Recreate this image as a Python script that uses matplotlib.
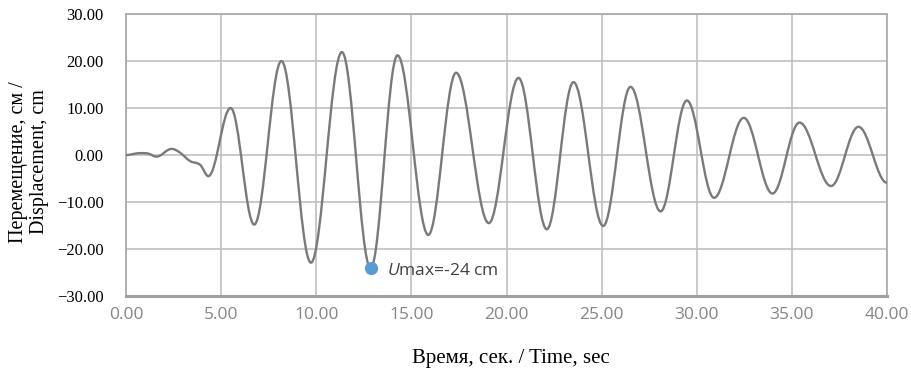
import matplotlib
matplotlib.use("Agg")
import matplotlib.pyplot as plt
from matplotlib.path import Path
from matplotlib.patches import PathPatch
from matplotlib.ticker import FuncFormatter

# readings from the picture: turning points of the displacement record
time_s = [0.0, 0.74, 1.17, 1.6, 2.4, 2.84, 3.37, 3.9, 4.33, 5.5, 6.74, 8.17,
          9.72, 11.35, 12.86, 14.27, 15.89, 17.35, 19.07, 20.63, 22.12, 23.52,
          25.08, 26.52, 28.1, 29.48, 30.91, 32.47, 33.98, 35.4, 37.06, 38.5, 40.0]
disp_cm = [0.0, 0.4, 0.3, -0.35, 1.3, 0.5, -1.3, -2.1, -4.5, 10.0, -14.8, 20.0,
           -22.9, 21.9, -24.1, 21.2, -17.0, 17.5, -14.5, 16.4, -15.8, 15.5,
           -15.1, 14.5, -12.0, 11.6, -9.1, 7.9, -8.2, 6.9, -6.6, 6.0, -5.9]

umax_time = 12.86
umax_disp = -24.1
umax_label = r"$\mathit{U}$max=-24 cm"

x_ticks = [0, 5, 10, 15, 20, 25, 30, 35, 40]
y_ticks = [-30, -20, -10, 0, 10, 20, 30]

LINE_GREY = "#7a7a7a"
GRID_GREY = "#c0c0c0"


def smooth_path(t, u, k=0.365):
    # excel-like smoothed line: cubic bezier through the points,
    # flat tangent at the turning points
    n = len(t)
    slopes = []
    for i in range(n):
        if i == 0 or i == n - 1:
            slopes.append(0.0)
            continue
        d1 = u[i] - u[i - 1]
        d2 = u[i + 1] - u[i]
        if d1 * d2 <= 0:
            slopes.append(0.0)
        else:
            slopes.append((u[i + 1] - u[i - 1]) / (t[i + 1] - t[i - 1]))
    verts = [(t[0], u[0])]
    codes = [Path.MOVETO]
    for i in range(n - 1):
        dt = t[i + 1] - t[i]
        verts += [(t[i] + k * dt, u[i] + k * dt * slopes[i]),
                  (t[i + 1] - k * dt, u[i + 1] - k * dt * slopes[i + 1]),
                  (t[i + 1], u[i + 1])]
        codes += [Path.CURVE4] * 3
    return Path(verts, codes)


plt.rcParams["mathtext.fontset"] = "custom"
plt.rcParams["mathtext.it"] = "Open Sans:italic"
plt.rcParams["mathtext.rm"] = "Open Sans"

fig = plt.figure(figsize=(9.11, 3.72), dpi=100)
ax = fig.add_axes([126 / 911, 76 / 372, 761 / 911, 282 / 372])

ax.add_patch(PathPatch(smooth_path(time_s, disp_cm), facecolor="none",
                       edgecolor=LINE_GREY, lw=1.7, zorder=3))
ax.plot([umax_time], [umax_disp], "o", color="#5b9bd5", ms=8.5, zorder=4)
ax.annotate(umax_label, xy=(umax_time, umax_disp), xytext=(12, -2),
            textcoords="offset points", va="center", ha="left",
            fontsize=12.5, family="Open Sans", color="#404040")

ax.set_xlim(0, 40)
ax.set_ylim(-30, 30)
ax.set_xticks(x_ticks)
ax.set_yticks(y_ticks)
ax.xaxis.set_major_formatter(FuncFormatter(lambda v, p: f"{v:.2f}"))
ax.yaxis.set_major_formatter(FuncFormatter(lambda v, p: f"{v:.2f}".replace("-", "\u2212")))
ax.grid(True, color=GRID_GREY, lw=1.2)
ax.set_axisbelow(True)
ax.tick_params(length=0)
ax.tick_params(axis="x", pad=8, labelsize=12.5, labelcolor="#858585")
ax.tick_params(axis="y", pad=16, labelsize=12, labelcolor="black")
for lbl in ax.get_xticklabels():
    lbl.set_family("Open Sans")
for lbl in ax.get_yticklabels():
    lbl.set_family("Liberation Serif")

for side in ["top", "right", "left"]:
    ax.spines[side].set_color("#a8a8a8")
    ax.spines[side].set_linewidth(1.2)
ax.spines["bottom"].set_color("#a0a0a0")
ax.spines["bottom"].set_linewidth(2.2)

fig.text(29 / 911, 1 - 162 / 372, "Перемещение, см /\nDisplacement, cm",
         rotation=90, ha="center", va="center", family="Liberation Serif",
         fontsize=14.5, linespacing=1.2)
fig.text(511 / 911, 1 - 358 / 372, "Время, сек. / Time, sec", ha="center",
         va="center", family="Liberation Serif", fontsize=15)

fig.savefig("out.png", dpi=100, facecolor="white")
